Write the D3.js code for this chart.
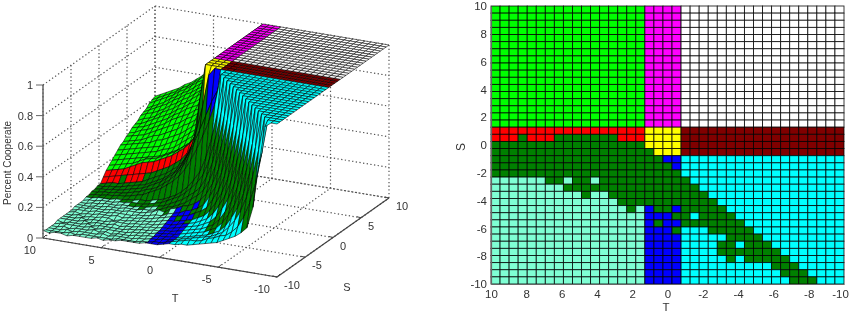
<!DOCTYPE html>
<html><head><meta charset="utf-8">
<script src="https://cdn.jsdelivr.net/npm/d3@7"></script>
<style>
html,body{margin:0;padding:0;background:#fff}
svg{display:block;filter:blur(.3px)}
text{font-family:"Liberation Sans",Arial,sans-serif;fill:#333}
</style></head><body>
<svg id="c" width="851" height="314"></svg>
<script>
const tTicks=[10,8,6,4,2,0,-2,-4,-6,-8,-10];
const sTicks=[10,8,6,4,2,0,-2,-4,-6,-8,-10];
const t3Ticks=[10,5,0,-5,-10];
const s3Ticks=[-10,-5,0,5,10];
const zTicks=[0,0.2,0.4,0.6,0.8,1];
const strategyColors={g:"#00ff00",m:"#ff00ff",w:"#ffffff",r:"#ff0000",y:"#ffff00",d:"#800000",k:"#008000",a:"#7fffd4",b:"#0000ff",c:"#00ffff"};
const strategyRows=[
"gggggggggggggggggmmmmwwwwwwwwwwwwwwwwww",
"gggggggggggggggggmmmmwwwwwwwwwwwwwwwwww",
"gggggggggggggggggmmmmwwwwwwwwwwwwwwwwww",
"gggggggggggggggggmmmmwwwwwwwwwwwwwwwwww",
"gggggggggggggggggmmmmwwwwwwwwwwwwwwwwww",
"gggggggggggggggggmmmmwwwwwwwwwwwwwwwwww",
"gggggggggggggggggmmmmwwwwwwwwwwwwwwwwww",
"gggggggggggggggggmmmmwwwwwwwwwwwwwwwwww",
"gggggggggggggggggmmmmwwwwwwwwwwwwwwwwww",
"gggggggggggggggggmmmmwwwwwwwwwwwwwwwwww",
"gggggggggggggggggmmmmwwwwwwwwwwwwwwwwww",
"gggggggggggggggggmmmmwwwwwwwwwwwwwwwwww",
"gggggggggggggggggmmmmwwwwwwwwwwwwwwwwww",
"gggggggggggggggggmmmmwwwwwwwwwwwwwwwwww",
"gggggggggggggggggmmmmwwwwwwwwwwwwwwwwww",
"gggggggggggggggggmmmmwwwwwwwwwwwwwwwwww",
"gggggggggggggggggmmmmwwwwwwwwwwwwwwwwww",
"rrrrrrrrrrrrrrrrryyyydddddddddddddddddd",
"rrrkrrrkkkkkkkrrryyyydddddddddddddddddd",
"kkkkkkkkkkkkkkkkkyyyydddddddddddddddddd",
"kkkkkkkkkkkkkkkkkkyyydddddddddddddddddd",
"kkkkkkkkkkkkkkkkkkkbbcccccccccccccccccc",
"kkkkkkkkkkkkkkkkkkkkbcccccccccccccccccc",
"kkkkkkkkkkkkkkkkkkkkkcccccccccccccccccc",
"aaaaaakkakkakkkkkkkkkkccccccccccccccccc",
"aaaaaaaakkkkkkkkkkkkkkkcccccccccccccccc",
"aaaaaaaaaakaakkkkkkkkkkkccccccccccccccc",
"aaaaaaaaaaaaaakkkkkkkkkkkcccccccccccccc",
"aaaaaaaaaaaaaaakabkkbkkkkkccccccccccccc",
"aaaaaaaaaaaaaaaaabbbkkckkkkcccccccccccc",
"aaaaaaaaaaaaaaaaabkbbkkkkkkkccccccccccc",
"aaaaaaaaaaaaaaaaabbbkccckkkkkcccccccccc",
"aaaaaaaaaaaaaaaaabbbbccccckkkkccccccccc",
"aaaaaaaaaaaaaaaaabbbbcccckkckkkcccccccc",
"aaaaaaaaaaaaaaaaabbbbcccckkkkkkkccccccc",
"aaaaaaaaaaaaaaaaabbbbccccckckkkkkcccccc",
"aaaaaaaaaaaaaaaaabbbbcccccccccckkkccccc",
"aaaaaaaaaaaaaaaaabbbbccccccccccckkkcccc",
"aaaaaaaaaaaaaaaaabbbbcccccccccccckkkccc"
];
const cooperateRows=[
[41,43,45,47,49,52,54,57,60,63,65,67,70,73,75,78,82,88,100,100,100,100,100,100,100,100,100,100,100,100,100,100,100,100,100,100,100,100,100,100],
[40,42,44,46,48,51,53,56,59,62,64,66,69,72,74,77,81,87,100,100,100,100,100,100,100,100,100,100,100,100,100,100,100,100,100,100,100,100,100,100],
[39,41,43,45,47,50,52,55,58,60,63,65,68,70,73,76,80,87,100,100,100,100,100,100,100,100,100,100,100,100,100,100,100,100,100,100,100,100,100,100],
[37,39,41,43,46,48,51,53,56,59,61,63,66,69,71,74,79,86,100,100,100,100,100,100,100,100,100,100,100,100,100,100,100,100,100,100,100,100,100,100],
[36,38,40,42,44,47,49,52,54,57,59,62,64,67,70,73,78,85,100,100,100,100,100,100,100,100,100,100,100,100,100,100,100,100,100,100,100,100,100,100],
[35,37,38,40,42,45,47,50,52,55,58,60,62,65,68,71,77,84,100,100,100,100,100,100,100,100,100,100,100,100,100,100,100,100,100,100,100,100,100,100],
[33,35,36,38,41,43,45,48,50,53,56,58,60,63,66,70,76,84,100,100,100,100,100,100,100,100,100,100,100,100,100,100,100,100,100,100,100,100,100,100],
[32,33,35,37,39,41,43,46,48,51,53,56,58,61,64,68,75,83,100,100,100,100,100,100,100,100,100,100,100,100,100,100,100,100,100,100,100,100,100,100],
[31,32,33,35,37,39,41,44,46,49,51,53,56,59,62,66,73,82,100,100,100,100,100,100,100,100,100,100,100,100,100,100,100,100,100,100,100,100,100,100],
[29,30,32,33,35,37,39,42,44,46,48,51,53,56,60,64,72,82,100,100,100,100,100,100,100,100,100,100,100,100,100,100,100,100,100,100,100,100,100,100],
[28,29,30,31,33,35,37,39,41,43,46,48,51,54,58,62,70,81,100,100,100,100,100,100,100,100,100,100,100,100,100,100,100,100,100,100,100,100,100,100],
[26,27,28,29,31,33,34,36,38,40,43,45,48,51,55,60,68,80,100,100,100,100,100,100,100,100,100,100,100,100,100,100,100,100,100,100,100,100,100,100],
[25,26,27,28,29,30,32,33,35,37,39,42,45,48,52,58,66,79,100,100,100,100,100,100,100,100,100,100,100,100,100,100,100,100,100,100,100,100,100,100],
[23,24,25,26,27,28,29,30,32,34,36,39,42,45,49,55,64,78,100,100,100,100,100,100,100,100,100,100,100,100,100,100,100,100,100,100,100,100,100,100],
[21,22,23,24,25,26,27,28,30,31,33,36,39,42,46,52,62,77,100,100,100,100,100,100,100,100,100,100,100,100,100,100,100,100,100,100,100,100,100,100],
[19,20,21,22,23,24,25,26,27,29,31,33,36,39,43,50,60,78,100,100,100,100,100,100,100,100,100,100,100,100,100,100,100,100,100,100,100,100,100,100],
[17,18,19,20,21,23,25,26,27,29,31,33,36,39,43,52,64,80,100,100,100,100,100,100,100,100,100,100,100,100,100,100,100,100,100,100,100,100,100,100],
[15,16,17,18,20,22,24,25,26,28,30,32,35,38,42,48,58,85,100,100,100,100,100,100,100,100,100,100,100,100,100,100,100,100,100,100,100,100,100,100],
[12,13,14,15,16,17,18,19,20,22,24,26,29,32,37,44,54,85,100,100,100,100,100,100,100,100,100,100,100,100,100,100,100,100,100,100,100,100,100,100],
[9,10,11,11,12,13,14,15,17,19,21,23,26,29,34,41,51,85,100,100,100,100,100,100,100,100,100,100,100,100,100,100,100,100,100,100,100,100,100,100],
[9,9,10,10,11,12,13,14,15,17,19,21,24,27,32,39,48,75,100,100,100,100,100,100,100,100,100,100,100,100,100,100,100,100,100,100,100,100,100,100],
[8,9,9,10,10,11,12,13,14,16,18,20,23,26,30,36,45,58,74,95,100,100,100,100,100,100,100,100,100,100,100,100,100,100,100,100,100,100,100,100],
[8,8,9,9,10,10,11,12,13,15,16,18,21,24,28,33,40,50,60,70,80,88,100,100,100,100,100,100,100,100,100,100,100,100,100,100,100,100,100,100],
[7,8,8,9,9,10,10,11,12,13,15,17,19,22,25,29,34,41,49,58,68,80,100,100,100,100,100,100,100,100,100,100,100,100,100,100,100,100,100,100],
[7,7,8,8,8,9,9,10,10,11,11,12,13,14,16,18,21,25,30,36,46,60,78,100,100,100,100,100,100,100,100,100,100,100,100,100,100,100,100,100],
[6,7,7,8,8,8,9,9,10,10,10,11,12,13,15,17,19,22,26,30,36,46,60,78,100,100,100,100,100,100,100,100,100,100,100,100,100,100,100,100],
[6,6,7,7,8,8,8,9,9,9,10,10,11,12,13,15,17,19,22,25,29,36,46,60,78,100,100,100,100,100,100,100,100,100,100,100,100,100,100,100],
[6,6,6,7,7,8,8,8,9,9,9,10,10,11,12,14,15,17,19,22,25,29,36,46,60,78,100,100,100,100,100,100,100,100,100,100,100,100,100,100],
[6,6,6,7,7,7,8,8,8,9,9,9,10,11,13,12,15,16,18,19,21,24,29,36,46,60,78,100,100,100,100,100,100,100,100,100,100,100,100,100],
[5,6,6,6,7,7,7,8,8,8,8,9,9,10,11,11,13,14,15,17,18,20,23,29,36,46,60,78,100,100,100,100,100,100,100,100,100,100,100,100],
[5,6,5,6,6,7,7,7,8,7,8,8,9,9,10,11,12,13,14,15,16,18,20,23,29,36,46,60,78,100,100,100,100,100,100,100,100,100,100,100],
[5,5,6,5,6,6,7,7,6,7,7,8,8,9,9,10,11,12,12,13,14,15,17,19,23,29,36,46,60,78,100,100,100,100,100,100,100,100,100,100],
[5,5,5,6,5,6,6,6,7,7,7,7,8,8,9,9,10,11,11,12,13,14,15,17,19,23,29,36,46,60,78,100,100,100,100,100,100,100,100,100],
[5,5,5,5,6,5,6,6,6,7,6,7,7,8,8,9,9,10,10,11,12,13,14,15,17,19,23,29,36,46,60,78,100,100,100,100,100,100,100,100],
[5,4,5,5,5,6,5,6,6,6,6,6,7,7,8,8,9,9,10,10,11,12,13,14,15,17,19,23,29,36,46,60,78,100,100,100,100,100,100,100],
[4,5,5,5,5,5,6,5,6,6,6,6,6,7,7,8,8,9,9,10,10,11,12,13,14,15,17,19,23,29,36,46,60,78,100,100,100,100,100,100],
[4,4,5,4,5,5,5,6,5,6,5,6,6,6,7,7,8,8,9,9,10,10,11,12,13,14,15,17,19,23,29,36,46,60,78,100,100,100,100,100],
[4,4,4,5,4,5,5,5,5,6,5,6,6,6,6,7,7,8,8,9,9,10,11,12,13,14,15,16,18,20,24,29,36,46,60,78,100,100,100,100],
[4,4,4,4,5,4,5,5,5,5,5,5,6,6,6,6,7,7,8,8,9,10,11,12,13,13,14,16,17,19,20,23,27,34,44,58,78,100,100,100],
[5,4,5,5,4,5,5,5,5,6,5,6,6,7,7,7,7,8,8,8,9,10,10,11,11,12,13,14,15,16,18,20,22,25,29,43,72,97,100,100]
];

const svg=d3.select("#c");
const nCells=strategyRows.length;

/* ---------- right panel: strategy map ---------- */
const R={l:491,r:844,t:6,b:284};
const xBand=d3.scaleBand().domain(d3.range(nCells)).range([R.l,R.r]);
const yBand=d3.scaleBand().domain(d3.range(nCells)).range([R.t,R.b]);
const cells=strategyRows.flatMap((row,i)=>Array.from(row,(k,j)=>({i,j,k})));
svg.append("g").selectAll("rect").data(cells).join("rect")
  .attr("x",d=>xBand(d.j)).attr("y",d=>yBand(d.i))
  .attr("width",xBand.bandwidth()).attr("height",yBand.bandwidth())
  .attr("fill",d=>strategyColors[d.k])
  .attr("stroke","#000").attr("stroke-opacity",.85).attr("stroke-width",.9);
const xAx=d3.scaleLinear().domain([10,-10]).range([R.l,R.r]);
const yAx=d3.scaleLinear().domain([10,-10]).range([R.t,R.b]);
const gx=svg.append("g").attr("transform",`translate(0,${R.b})`)
  .call(d3.axisBottom(xAx).tickValues(tTicks).tickSize(0).tickPadding(6));
const gy=svg.append("g").attr("transform",`translate(${R.l},0)`)
  .call(d3.axisLeft(yAx).tickValues(sTicks).tickSize(0).tickPadding(4));
[gx,gy].forEach(g=>{g.selectAll("text").text(d=>String(d)).attr("font-size",11.5).attr("font-family",null).style("fill","#333");
  g.select(".domain").attr("stroke","#666").attr("stroke-width",1.2);});
gx.selectAll("text").filter(d=>d===-10).attr("dx",-4);
svg.append("text").attr("x",666).attr("y",311).attr("text-anchor","middle").attr("font-size",11.5).text("T");
svg.append("text").attr("transform","translate(465,147) rotate(-90)").attr("text-anchor","middle").attr("font-size",12).text("S");

/* ---------- left panel: 3-D surface ---------- */
const A={x:43,y:238};
const tDx=d3.scaleLinear().domain([10,-10]).range([0,234]);
const tDy=d3.scaleLinear().domain([10,-10]).range([0,39]);
const sDx=d3.scaleLinear().domain([-10,10]).range([0,112]);
const sDy=d3.scaleLinear().domain([-10,10]).range([0,-79]);
const zDy=d3.scaleLinear().domain([0,1]).range([0,-153]);
const project=(T,S,z)=>[A.x+tDx(T)+sDx(S),A.y+tDy(T)+sDy(S)+zDy(z)];
const nodeVal=d3.scaleLinear().domain([0,nCells]).range([10,-10]);
const line=d3.line();
const grid=svg.append("g").attr("fill","none").attr("stroke","#555").attr("stroke-width",1.2).attr("stroke-dasharray","1.3 2.4");
const seg=(a,b)=>grid.append("path").attr("d",line([project(...a),project(...b)]));
t3Ticks.forEach(T=>{ seg([T,-10,0],[T,10,0]); seg([T,10,0],[T,10,1]); });
s3Ticks.forEach(S=>{ seg([-10,S,0],[10,S,0]); seg([10,S,0],[10,S,1]); });
zTicks.forEach(z=>{ seg([10,-10,z],[10,10,z]); seg([10,10,z],[-10,10,z]); });

const quads=[];
strategyRows.forEach((row,i)=>Array.from(row).forEach((k,j)=>{
  const n=(a,b)=>project(nodeVal(b),nodeVal(a),cooperateRows[a][b]/100);
  quads.push({k,p:[n(i,j),n(i,j+1),n(i+1,j+1),n(i+1,j)]});
}));
svg.append("g").selectAll("path").data(quads).join("path")
  .attr("d",d=>line(d.p)+"Z").attr("fill",d=>strategyColors[d.k])
  .attr("stroke","#000").attr("stroke-opacity",.8).attr("stroke-width",.7).attr("stroke-linejoin","round");

const axisLine=(a,b,c,w)=>svg.append("path").attr("d",line([project(...a),project(...b)])).attr("stroke",c).attr("stroke-width",w).attr("fill","none");
axisLine([10,-10,0],[10,-10,1],"#666",1.5);
axisLine([10,-10,0],[-10,-10,0],"#444",1.2);
axisLine([-10,-10,0],[-10,10,0],"#444",1.2);
zTicks.forEach(z=>{const p=project(10,-10,z);
  svg.append("path").attr("d",line([[p[0]-7,p[1]],p])).attr("stroke","#666");
  svg.append("text").attr("x",p[0]-10).attr("y",p[1]+4).attr("text-anchor","end").attr("font-size",11).text(String(z));});
t3Ticks.forEach(T=>{const p=project(T,-10,0);
  svg.append("path").attr("d",line([p,[p[0]+3,p[1]-3]])).attr("stroke","#444");
  svg.append("text").attr("x",p[0]-7).attr("y",p[1]+16).attr("text-anchor","end").attr("font-size",11).text(String(T));});
s3Ticks.forEach(S=>{const p=project(-10,S,0);
  svg.append("path").attr("d",line([p,[p[0]-4,p[1]-1]])).attr("stroke","#444");
  svg.append("text").attr("x",p[0]+7).attr("y",p[1]+12).attr("text-anchor","start").attr("font-size",11).text(String(S));});
svg.append("text").attr("x",175).attr("y",302).attr("text-anchor","middle").attr("font-size",11).text("T");
svg.append("text").attr("x",347).attr("y",291).attr("text-anchor","middle").attr("font-size",11).text("S");
svg.append("text").attr("transform","translate(11,163) rotate(-90)").attr("text-anchor","middle").attr("font-size",10).text("Percent Cooperate");
</script>
</body></html>
